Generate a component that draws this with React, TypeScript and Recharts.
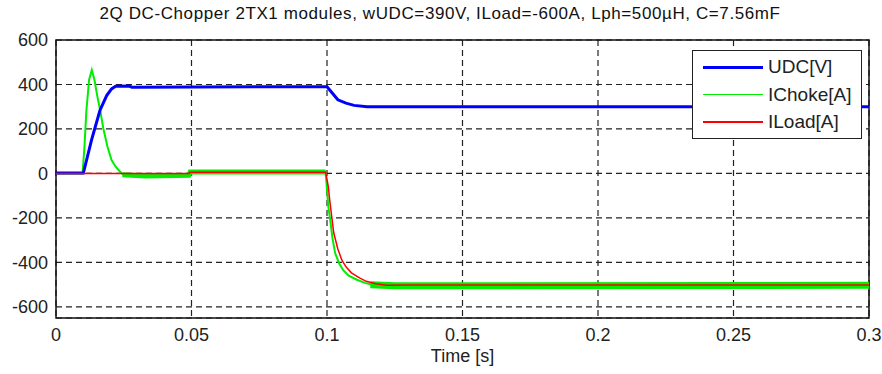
import React from 'react';
import { LineChart, Line, XAxis, YAxis, CartesianGrid, ReferenceArea } from 'recharts';

// time [s] / value pairs
const udcPoints: [number, number][] = [
  [0, 2], [0.0101, 2], [0.0131, 150], [0.0162, 283], [0.0187, 350], [0.0205, 380],
  [0.022, 392], [0.027, 393], [0.028, 388], [0.1, 390], [0.1017, 365], [0.104, 331],
  [0.107, 316], [0.110, 306], [0.1148, 300], [0.3, 300]
];

const chokePoints: [number, number][] = [
  [0, 0], [0.0098, 0], [0.0105, 120], [0.0112, 280], [0.0122, 420], [0.0132, 465],
  [0.0142, 420], [0.0152, 350], [0.0162, 290], [0.0175, 200], [0.019, 120], [0.0205, 60],
  [0.022, 30], [0.0235, 10], [0.025, -8], [0.033, -12], [0.049, -8], [0.0495, 6],
  [0.08, 6], [0.0995, 6], [0.1005, -150], [0.1012, -210], [0.102, -290],
  [0.103, -358], [0.1045, -405], [0.106, -435], [0.108, -460], [0.111, -478], [0.114, -492],
  [0.117, -502], [0.12, -506], [0.125, -506], [0.13, -503], [0.3, -503]
];

// ripple band of the choke current (thicker trace)
const chokeRippleA: [number, number][] = [[0.0245, -6], [0.033, -11], [0.049, -8], [0.0495, 6], [0.0995, 6]];
const chokeRippleB: [number, number][] = [[0.116, -500], [0.125, -505], [0.3, -503]];

const loadPoints: [number, number][] = [
  [0, 0], [0.049, 0], [0.0495, 5], [0.0995, 5], [0.1005, -60], [0.101, -120], [0.1018, -200],
  [0.1025, -268], [0.104, -340], [0.1055, -390], [0.107, -420], [0.109, -447],
  [0.112, -470], [0.1145, -485], [0.118, -496], [0.122, -503], [0.13, -502], [0.3, -502]
];

const xTicks = [0, 0.05, 0.1, 0.15, 0.2, 0.25, 0.3];
const yTicks = [-600, -400, -200, 0, 200, 400, 600];

const legendItems = [
  { name: 'UDC[V]', color: '#0000ff', width: 3 },
  { name: 'IChoke[A]', color: '#00ee00', width: 1.5 },
  { name: 'ILoad[A]', color: '#ff0000', width: 1.5 }
];

const toRows = (pts: [number, number][]) => pts.map(([t, v]) => ({ t, v }));

const font = '"Liberation Sans", Arial, sans-serif';

const App: React.FC = () => {
  return (
    <div style={{ position: 'absolute', left: 0, top: 0, width: 882, height: 374, background: '#fff', fontFamily: font }}>
      <div style={{ position: 'absolute', left: 0, top: 4, width: 880, textAlign: 'center', fontSize: 17, letterSpacing: 0.6, color: '#111' }}>
        2Q DC-Chopper 2TX1 modules, wUDC=390V, ILoad=-600A, Lph=500µH, C=7.56mF
      </div>
      <LineChart width={882} height={374} margin={{ top: 40, right: 13, left: 6, bottom: 8 }}>
        <CartesianGrid stroke="#222" strokeDasharray="6 4" strokeWidth={1.2} />
        <XAxis
          dataKey="t"
          type="number"
          domain={[0, 0.3]}
          ticks={xTicks}
          tickFormatter={(v: number) => String(v)}
          axisLine={false}
          tickLine={false}
          height={48}
          tickMargin={4}
          tick={{ fill: '#222', fontSize: 18, fontFamily: font }}
          label={{ value: 'Time [s]', position: 'insideBottom', offset: 4, fill: '#222', fontSize: 18, fontFamily: font }}
        />
        <YAxis
          type="number"
          domain={[-650, 600]}
          ticks={yTicks}
          axisLine={false}
          tickLine={false}
          width={50}
          tick={{ fill: '#222', fontSize: 18, fontFamily: font }}
        />
        <ReferenceArea x1={0} x2={0.3} y1={-650} y2={600} fill="none" stroke="#111" strokeWidth={1.5} />
        <Line data={toRows(chokeRippleA)} dataKey="v" type="linear" stroke="#00ee00" strokeWidth={5} dot={false} isAnimationActive={false} legendType="none" />
        <Line data={toRows(chokeRippleB)} dataKey="v" type="linear" stroke="#00ee00" strokeWidth={7} dot={false} isAnimationActive={false} legendType="none" />
        <Line data={toRows(chokePoints)} dataKey="v" name="IChoke[A]" type="linear" stroke="#00ee00" strokeWidth={2} dot={false} isAnimationActive={false} />
        <Line data={toRows(udcPoints)} dataKey="v" name="UDC[V]" type="linear" stroke="#0000ff" strokeWidth={3} dot={false} isAnimationActive={false} />
        <Line data={toRows(loadPoints)} dataKey="v" name="ILoad[A]" type="linear" stroke="#ff0000" strokeWidth={1.5} dot={false} isAnimationActive={false} />
      </LineChart>
      <div style={{ position: 'absolute', left: 692, top: 50, width: 168, height: 87, border: '1.5px solid #222', background: '#fff' }}>
        {legendItems.map((item, i) => (
          <div key={item.name} style={{ position: 'absolute', left: 0, top: 3 + i * 27.5, height: 26, display: 'flex', alignItems: 'center' }}>
            <div style={{ marginLeft: 10, width: 60, height: item.width, background: item.color }} />
            <span style={{ marginLeft: 5, fontSize: 19, color: '#222' }}>{item.name}</span>
          </div>
        ))}
      </div>
    </div>
  );
};

export default App;
